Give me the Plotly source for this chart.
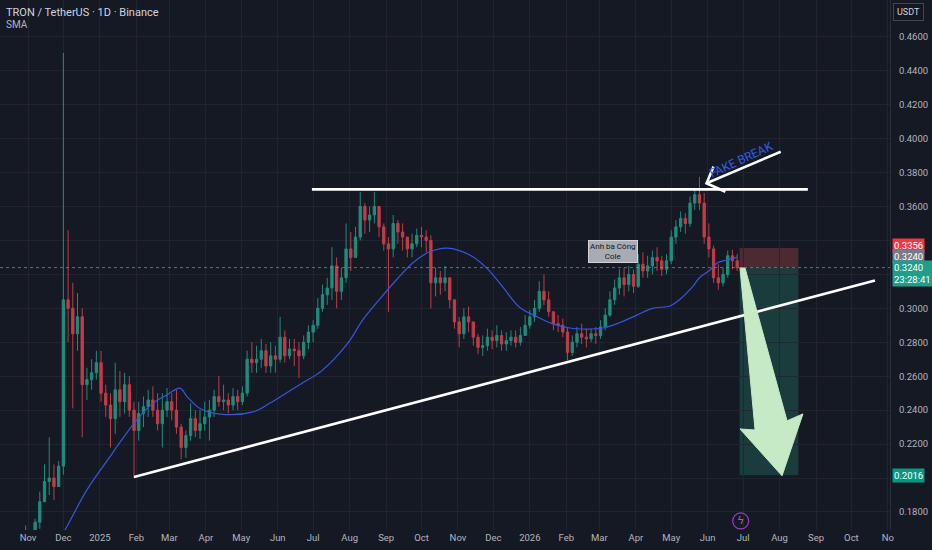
import pandas as pd
import plotly.graph_objects as go

# 4-day candles, TRX/USDT
dates = pd.date_range("2024-10-26", periods=153, freq="4D")
first_open = 0.159
closes = [0.161, 0.165, 0.163, 0.174, 0.186, 0.198, 0.200, 0.195, 0.207, 0.305,
          0.300, 0.285, 0.295, 0.255, 0.258, 0.262, 0.268, 0.250, 0.243, 0.235,
          0.252, 0.245, 0.255, 0.240, 0.228, 0.238, 0.242, 0.246, 0.240, 0.232,
          0.240, 0.245, 0.240, 0.230, 0.218, 0.225, 0.235, 0.228, 0.232, 0.236,
          0.240, 0.248, 0.245, 0.246, 0.243, 0.248, 0.245, 0.250, 0.270, 0.268,
          0.270, 0.275, 0.266, 0.272, 0.270, 0.283, 0.272, 0.276, 0.275, 0.272,
          0.280, 0.286, 0.290, 0.300, 0.308, 0.312, 0.325, 0.310, 0.318, 0.335,
          0.330, 0.342, 0.360, 0.352, 0.355, 0.360, 0.348, 0.338, 0.335, 0.350,
          0.345, 0.342, 0.335, 0.338, 0.343, 0.342, 0.340, 0.315, 0.318, 0.315,
          0.318, 0.305, 0.292, 0.285, 0.295, 0.292, 0.283, 0.277, 0.278, 0.283,
          0.281, 0.284, 0.279, 0.281, 0.283, 0.280, 0.284, 0.290, 0.295, 0.300,
          0.310, 0.305, 0.298, 0.291, 0.290, 0.286, 0.274, 0.280, 0.285, 0.283,
          0.282, 0.285, 0.284, 0.289, 0.296, 0.305, 0.312, 0.318, 0.314, 0.320,
          0.313, 0.326, 0.322, 0.325, 0.330, 0.328, 0.323, 0.328, 0.342, 0.348,
          0.353, 0.350, 0.362, 0.367, 0.362, 0.342, 0.335, 0.318, 0.315, 0.320,
          0.331, 0.328, 0.324]
highs = [0.163, 0.172, 0.167, 0.176, 0.192, 0.208, 0.224, 0.208, 0.210, 0.4505,
         0.346, 0.315, 0.309, 0.300, 0.265, 0.270, 0.275, 0.275, 0.255, 0.250,
         0.268, 0.263, 0.262, 0.260, 0.245, 0.245, 0.248, 0.252, 0.254, 0.250,
         0.250, 0.253, 0.250, 0.252, 0.232, 0.228, 0.244, 0.240, 0.240, 0.245,
         0.246, 0.252, 0.260, 0.255, 0.250, 0.253, 0.252, 0.254, 0.275, 0.280,
         0.278, 0.282, 0.279, 0.280, 0.278, 0.295, 0.287, 0.282, 0.282, 0.280,
         0.284, 0.290, 0.293, 0.306, 0.314, 0.318, 0.336, 0.330, 0.324, 0.350,
         0.345, 0.348, 0.3685, 0.362, 0.360, 0.3685, 0.360, 0.350, 0.342, 0.355,
         0.352, 0.350, 0.342, 0.344, 0.347, 0.348, 0.346, 0.343, 0.324, 0.322,
         0.325, 0.318, 0.305, 0.295, 0.300, 0.301, 0.292, 0.285, 0.284, 0.288,
         0.287, 0.290, 0.287, 0.286, 0.287, 0.287, 0.289, 0.296, 0.299, 0.305,
         0.316, 0.320, 0.310, 0.298, 0.296, 0.294, 0.289, 0.284, 0.289, 0.291,
         0.288, 0.288, 0.289, 0.293, 0.300, 0.310, 0.317, 0.323, 0.324, 0.325,
         0.323, 0.332, 0.333, 0.331, 0.334, 0.336, 0.331, 0.332, 0.346, 0.352,
         0.357, 0.356, 0.366, 0.370, 0.3775, 0.368, 0.350, 0.337, 0.326, 0.324,
         0.334, 0.3345, 0.332]
lows = [0.157, 0.160, 0.160, 0.160, 0.170, 0.186, 0.190, 0.187, 0.195, 0.202,
        0.280, 0.241, 0.275, 0.224, 0.246, 0.252, 0.258, 0.245, 0.236, 0.218,
        0.226, 0.236, 0.238, 0.236, 0.200, 0.222, 0.230, 0.236, 0.236, 0.228,
        0.218, 0.236, 0.234, 0.226, 0.211, 0.212, 0.222, 0.224, 0.223, 0.228,
        0.222, 0.236, 0.242, 0.240, 0.238, 0.240, 0.240, 0.243, 0.248, 0.262,
        0.262, 0.265, 0.262, 0.262, 0.262, 0.268, 0.268, 0.270, 0.266, 0.259,
        0.270, 0.276, 0.280, 0.288, 0.298, 0.302, 0.305, 0.300, 0.305, 0.315,
        0.322, 0.330, 0.340, 0.344, 0.345, 0.350, 0.342, 0.334, 0.298, 0.330,
        0.338, 0.334, 0.330, 0.330, 0.336, 0.336, 0.333, 0.300, 0.307, 0.308,
        0.310, 0.300, 0.288, 0.277, 0.282, 0.286, 0.278, 0.273, 0.272, 0.275,
        0.276, 0.277, 0.275, 0.275, 0.278, 0.277, 0.278, 0.284, 0.288, 0.292,
        0.298, 0.302, 0.295, 0.287, 0.286, 0.283, 0.2695, 0.272, 0.277, 0.279,
        0.277, 0.280, 0.279, 0.282, 0.287, 0.295, 0.302, 0.308, 0.307, 0.310,
        0.309, 0.312, 0.318, 0.318, 0.320, 0.322, 0.319, 0.320, 0.326, 0.338,
        0.345, 0.344, 0.348, 0.358, 0.358, 0.338, 0.330, 0.315, 0.311, 0.313,
        0.318, 0.323, 0.322]
opens = [first_open] + closes[:-1]

# SMA line as drawn on the chart
sma_dates = ["2024-11-28", "2024-12-02", "2024-12-21", "2025-01-09", "2025-01-18",
             "2025-02-01", "2025-02-15", "2025-02-27", "2025-03-10", "2025-03-16",
             "2025-03-27", "2025-04-13", "2025-05-11", "2025-05-25", "2025-06-08",
             "2025-06-22", "2025-07-08", "2025-07-30", "2025-08-12", "2025-08-26",
             "2025-09-10", "2025-09-24", "2025-10-08", "2025-10-23", "2025-11-11",
             "2025-11-25", "2025-12-09", "2025-12-23", "2026-01-07", "2026-01-20",
             "2026-02-04", "2026-02-18", "2026-03-04", "2026-03-18", "2026-04-02",
             "2026-04-15", "2026-04-30", "2026-05-08", "2026-05-19", "2026-05-25",
             "2026-06-03", "2026-06-09", "2026-06-17", "2026-06-26"]
sma_values = [0.165, 0.169, 0.193, 0.212, 0.221, 0.234, 0.244, 0.249, 0.253, 0.248,
              0.241, 0.2377, 0.239, 0.244, 0.250, 0.256, 0.263, 0.279, 0.293, 0.305,
              0.317, 0.327, 0.3333, 0.3355, 0.3314, 0.324, 0.3127, 0.3008, 0.295, 0.291,
              0.2884, 0.2878, 0.2884, 0.2915, 0.296, 0.300, 0.3014, 0.305, 0.3126, 0.318,
              0.3226, 0.3267, 0.3285, 0.330]

month_ticks = pd.date_range("2024-11-01", "2026-11-01", freq="MS")
month_text = ["2025" if d.month == 1 and d.year == 2025 else
              "2026" if d.month == 1 and d.year == 2026 else d.strftime("%b")
              for d in month_ticks]
month_text[-1] = "No"

# price scale; 0.2000 and 0.3400 sit under the price tags, so no text there
price_ticks = [0.18, 0.20, 0.22, 0.24, 0.26, 0.28, 0.30, 0.32, 0.34, 0.36,
               0.38, 0.40, 0.42, 0.44, 0.46]
price_text = ["" if p in (0.20, 0.32, 0.34) else f"{p:.4f}" for p in price_ticks]

last_price = 0.3240
stop_price = 0.3356
target_price = 0.2016

# drawings (date, price)
resist = (["2025-06-30", "2026-08-25"], [0.3701, 0.3701])
support = (["2025-01-30", "2026-10-21"], [0.2006, 0.3164])
box_x = ["2026-06-28", "2026-08-17"]
arrow_x = ["2026-06-28 10:00", "2026-07-02 16:00", "2026-08-07 08:00", "2026-08-20 20:00",
           "2026-08-03 02:00", "2026-06-28 10:00", "2026-07-11 05:00", "2026-06-28 10:00"]
arrow_y = [0.3238, 0.3238, 0.2337, 0.2378, 0.2013, 0.2289, 0.2283, 0.3238]

BG = "#151924"
GRID = "rgba(34,38,49,0.9)"
TXT = "#b2b5be"
FONT = "Roboto"

fig = go.Figure()

fig.add_trace(go.Candlestick(
    x=dates, open=opens, high=highs, low=lows, close=closes,
    increasing=dict(line=dict(color="#22a08c", width=1), fillcolor="#22a08c"),
    decreasing=dict(line=dict(color="#e0434f", width=1), fillcolor="#e0434f"),
    whiskerwidth=0, opacity=0.85, showlegend=False, hoverinfo="skip"))

fig.add_trace(go.Scatter(x=sma_dates, y=sma_values, mode="lines",
                         line=dict(color="#3557e0", width=1.2, shape="spline"),
                         showlegend=False, hoverinfo="skip"))

# position boxes
fig.add_shape(type="rect", x0=box_x[0], x1=box_x[1], y0=last_price, y1=stop_price,
              fillcolor="#4b2a31", line_width=0, layer="below")
fig.add_shape(type="rect", x0=box_x[0], x1=box_x[1], y0=target_price, y1=last_price,
              fillcolor="#1b3c3c", line_width=0, layer="below")

# last price dotted line
fig.add_shape(type="line", xref="paper", x0=0, x1=1, y0=last_price, y1=last_price,
              line=dict(color="rgba(140,145,155,0.7)", width=1, dash="dot"))

# trend lines
for xs, ys in (resist, support):
    fig.add_trace(go.Scatter(x=xs, y=ys, mode="lines", line=dict(color="white", width=2.6),
                             showlegend=False, hoverinfo="skip"))

# big green arrow
fig.add_trace(go.Scatter(x=arrow_x, y=arrow_y, mode="lines", fill="toself",
                         fillcolor="#c6e9c6", line=dict(color="#c6e9c6", width=1),
                         showlegend=False, hoverinfo="skip"))

# white arrow pointing at the fake break
fig.add_trace(go.Scatter(
    x=["2026-08-02", "2026-05-31", None, "2026-06-06", "2026-05-31", "2026-06-16"],
    y=[0.3923, 0.3737, None, 0.3835, 0.3737, 0.3687],
    mode="lines", line=dict(color="white", width=2.6), showlegend=False, hoverinfo="skip"))

ann = [
    dict(x="2026-06-29", y=0.3876, text="FAKE BREAK", textangle=-25, showarrow=False,
         font=dict(color="#2f5fe8", size=12, family=FONT)),
    dict(x="2026-03-13", y=0.3332, text="Anh ba Công<br>Cole", showarrow=False,
         font=dict(color="#131722", size=8, family=FONT), bgcolor="#a8abb2",
         bordercolor="#d0d2d6", borderwidth=1, borderpad=1),
    dict(xref="paper", yref="paper", x=0, y=1, xshift=4, yshift=-4, xanchor="left",
         yanchor="top", text="TRON / TetherUS · 1D · Binance", showarrow=False,
         font=dict(color="#d1d4dc", size=11, family=FONT)),
    dict(xref="paper", yref="paper", x=0, y=1, xshift=4, yshift=-17, xanchor="left",
         yanchor="top", text="SMA", showarrow=False,
         font=dict(color="#b2b5be", size=10, family=FONT)),
    dict(xref="paper", yref="paper", x=1, y=1, xshift=3, yshift=-3, xanchor="left",
         yanchor="top", text="USDT", showarrow=False, bgcolor="#131722",
         bordercolor="#434651", borderwidth=1, borderpad=3,
         font=dict(color="#d1d4dc", size=9, family=FONT)),
    dict(xref="paper", x=1, y=stop_price, xshift=2, yshift=2, xanchor="left",
         text=f"{stop_price:.4f}", showarrow=False, bgcolor="#f23645", borderpad=1,
         font=dict(color="white", size=9.5, family=FONT)),
    dict(xref="paper", x=1, y=0.3308, xshift=2, xanchor="left",
         text=f"{last_price:.4f}", showarrow=False, bgcolor="#787b86", borderpad=1,
         font=dict(color="white", size=9.5, family=FONT)),
    dict(xref="paper", x=1, y=0.3208, xshift=2, xanchor="left",
         text=f"{last_price:.4f}<br>23:28:41", showarrow=False, bgcolor="#1f9e8a",
         borderpad=1, align="left", font=dict(color="white", size=9.5, family=FONT)),
    dict(xref="paper", x=1, y=target_price, xshift=2, xanchor="left",
         text=f"{target_price:.4f}", showarrow=False, bgcolor="#089981", borderpad=1,
         font=dict(color="white", size=9.5, family=FONT)),
    dict(x="2026-06-29", y=0.1747, text="ϟ", showarrow=False,
         font=dict(color="#b455d8", size=11, family="DejaVu Sans")),
]

# lightning badge ring
fig.add_shape(type="circle", xref="x", yref="y", xsizemode="pixel", ysizemode="pixel",
              xanchor="2026-06-29", yanchor=0.1747, x0=-8, x1=8, y0=-8, y1=8,
              line=dict(color="#9b3fc0", width=1.2))

fig.update_layout(
    width=932, height=550,
    margin=dict(l=0, r=42, t=0, b=20),
    paper_bgcolor=BG, plot_bgcolor=BG,
    annotations=ann,
    font=dict(family=FONT, color=TXT, size=10),
    xaxis=dict(range=["2024-10-08 05:00", "2026-11-02 18:00"], rangeslider_visible=False,
               tickmode="array", tickvals=month_ticks, ticktext=month_text,
               showgrid=True, gridcolor=GRID, zeroline=False, showline=False,
               tickfont=dict(size=9.5, color=TXT)),
    yaxis=dict(range=[0.16937, 0.48169], side="right", tickmode="array",
               tickvals=price_ticks, ticktext=price_text,
               showgrid=True, gridcolor=GRID, zeroline=False,
               showline=True, linecolor="#2a2e39", ticklabelstandoff=6,
               tickfont=dict(size=9.5, color=TXT)),
    hovermode=False,
)

# drop the default page margin so the chart sits flush in the window
fig.write_html("out.html", config={"displayModeBar": False},
               post_script="document.body.style.margin='0';")
